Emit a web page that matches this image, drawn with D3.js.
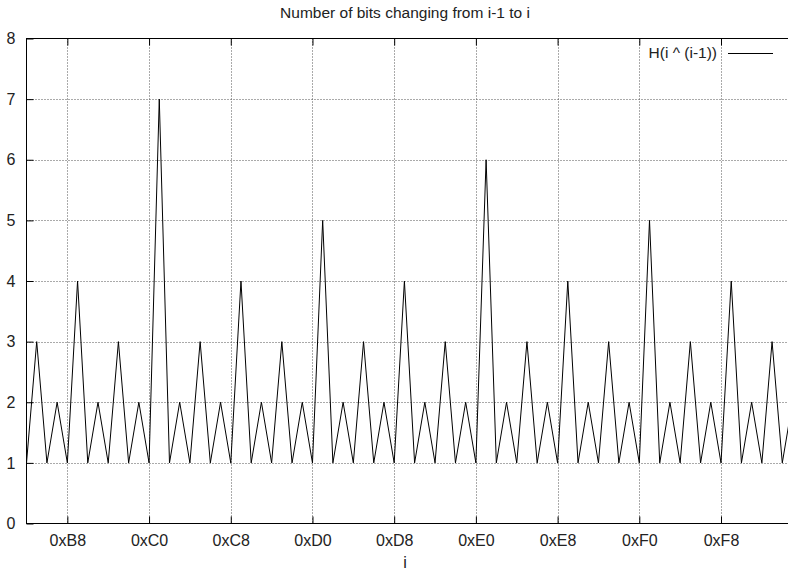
<!DOCTYPE html>
<html>
<head>
<meta charset="utf-8">
<script src="https://cdn.jsdelivr.net/npm/d3@7"></script>
<style>
  body { margin: 0; background: #fff; }
  svg { display: block; font-family: "Liberation Sans", Arial, sans-serif; }
</style>
</head>
<body>
<div id="chart"></div>
<script>
// i values and H(i ^ (i-1))
const iValues = d3.range(180, 256);
const bits = [
  1, 3, 1, 2, 1,
  4, 1, 2, 1, 3, 1, 2, 1,
  7, 1, 2, 1, 3, 1, 2, 1,
  4, 1, 2, 1, 3, 1, 2, 1,
  5, 1, 2, 1, 3, 1, 2, 1,
  4, 1, 2, 1, 3, 1, 2, 1,
  6, 1, 2, 1, 3, 1, 2, 1,
  4, 1, 2, 1, 3, 1, 2, 1,
  5, 1, 2, 1, 3, 1, 2, 1,
  4, 1, 2, 1, 3, 1, 2
];
const xTicks = [0xB8, 0xC0, 0xC8, 0xD0, 0xD8, 0xE0, 0xE8, 0xF0, 0xF8];
const xTickLabels = ["0xB8", "0xC0", "0xC8", "0xD0", "0xD8", "0xE0", "0xE8", "0xF0", "0xF8"];
const yTicks = [0, 1, 2, 3, 4, 5, 6, 7, 8];

const data = iValues.map((x, k) => ({x: x, y: bits[k]}));

let margin = {top: 38.5, left: 26.5},
    W = 788, H = 572,
    plotRight = 792.5,
    plotBottom = 523.5,
    fontSize = 16;

const svg = d3.select("#chart")
  .append("svg")
    .attr("width", W)
    .attr("height", H);

let x = d3.scaleLinear()
    .domain([180, 255])
    .range([margin.left, plotRight]);

let y = d3.scaleLinear()
    .domain([0, 8])
    .range([plotBottom, margin.top]);

// grid
const grid = svg.append("g")
    .attr("stroke", "#555")
    .attr("stroke-width", 1)
    .attr("stroke-dasharray", "1,2");

grid.selectAll(".vgrid")
  .data(xTicks)
  .join("line")
    .attr("x1", d => Math.round(x(d)) + 0.5)
    .attr("x2", d => Math.round(x(d)) + 0.5)
    .attr("y1", margin.top)
    .attr("y2", plotBottom);

grid.selectAll(".hgrid")
  .data(yTicks.slice(1, -1))
  .join("line")
    .attr("x1", margin.left)
    .attr("x2", plotRight)
    .attr("y1", d => Math.round(y(d)) + 0.5)
    .attr("y2", d => Math.round(y(d)) + 0.5);

// axes (ticks inward)
const fmtX = d => xTickLabels[xTicks.indexOf(d)];

let xAxis = g => g
    .attr("transform", `translate(0,${plotBottom})`)
    .call(d3.axisBottom(x).tickValues(xTicks).tickFormat(fmtX).tickSizeInner(-7).tickSizeOuter(0).tickPadding(11))
    .call(g => g.select(".domain").remove());

let xAxisTop = g => g
    .attr("transform", `translate(0,${margin.top})`)
    .call(d3.axisTop(x).tickValues(xTicks).tickFormat("").tickSizeInner(-7).tickSizeOuter(0))
    .call(g => g.select(".domain").remove());

let yAxis = g => g
    .attr("transform", `translate(${margin.left},0)`)
    .call(d3.axisLeft(y).tickValues(yTicks).tickFormat(d3.format("d")).tickSizeInner(-7).tickSizeOuter(0).tickPadding(11))
    .call(g => g.select(".domain").remove());

[xAxis, xAxisTop, yAxis].forEach(a => {
  svg.append("g")
    .call(a)
    .call(g => g.selectAll("text").attr("font-size", fontSize).attr("font-family", "Liberation Sans, Arial, sans-serif").attr("fill", "#222"))
    .call(g => g.selectAll("line").attr("stroke", "#000"));
});

// frame
svg.append("rect")
    .attr("x", margin.left)
    .attr("y", margin.top)
    .attr("width", plotRight - margin.left)
    .attr("height", plotBottom - margin.top)
    .attr("fill", "none")
    .attr("stroke", "#000");

// line
const line = d3.line()
    .x(d => x(d.x))
    .y(d => y(d.y));

svg.append("path")
    .datum(data)
    .attr("fill", "none")
    .attr("stroke", "#000")
    .attr("stroke-width", 1)
    .attr("d", line);

// title + axis label
svg.append("text")
    .attr("x", 405)
    .attr("y", 13)
    .attr("dy", "0.35em")
    .attr("text-anchor", "middle")
    .attr("font-size", 15.5)
    .attr("fill", "#222")
    .text("Number of bits changing from i-1 to i");

svg.append("text")
    .attr("x", 405)
    .attr("y", 568)
    .attr("text-anchor", "middle")
    .attr("font-size", fontSize)
    .attr("fill", "#222")
    .text("i");

// legend
const leg = svg.append("g");
leg.append("text")
    .attr("x", 717)
    .attr("y", 53)
    .attr("dy", "0.35em")
    .attr("text-anchor", "end")
    .attr("font-size", 15.5)
    .attr("fill", "#222")
    .text("H(i ^ (i-1))");
leg.append("line")
    .attr("x1", 728)
    .attr("x2", 773)
    .attr("y1", 53.5)
    .attr("y2", 53.5)
    .attr("stroke", "#000");
</script>
</body>
</html>
